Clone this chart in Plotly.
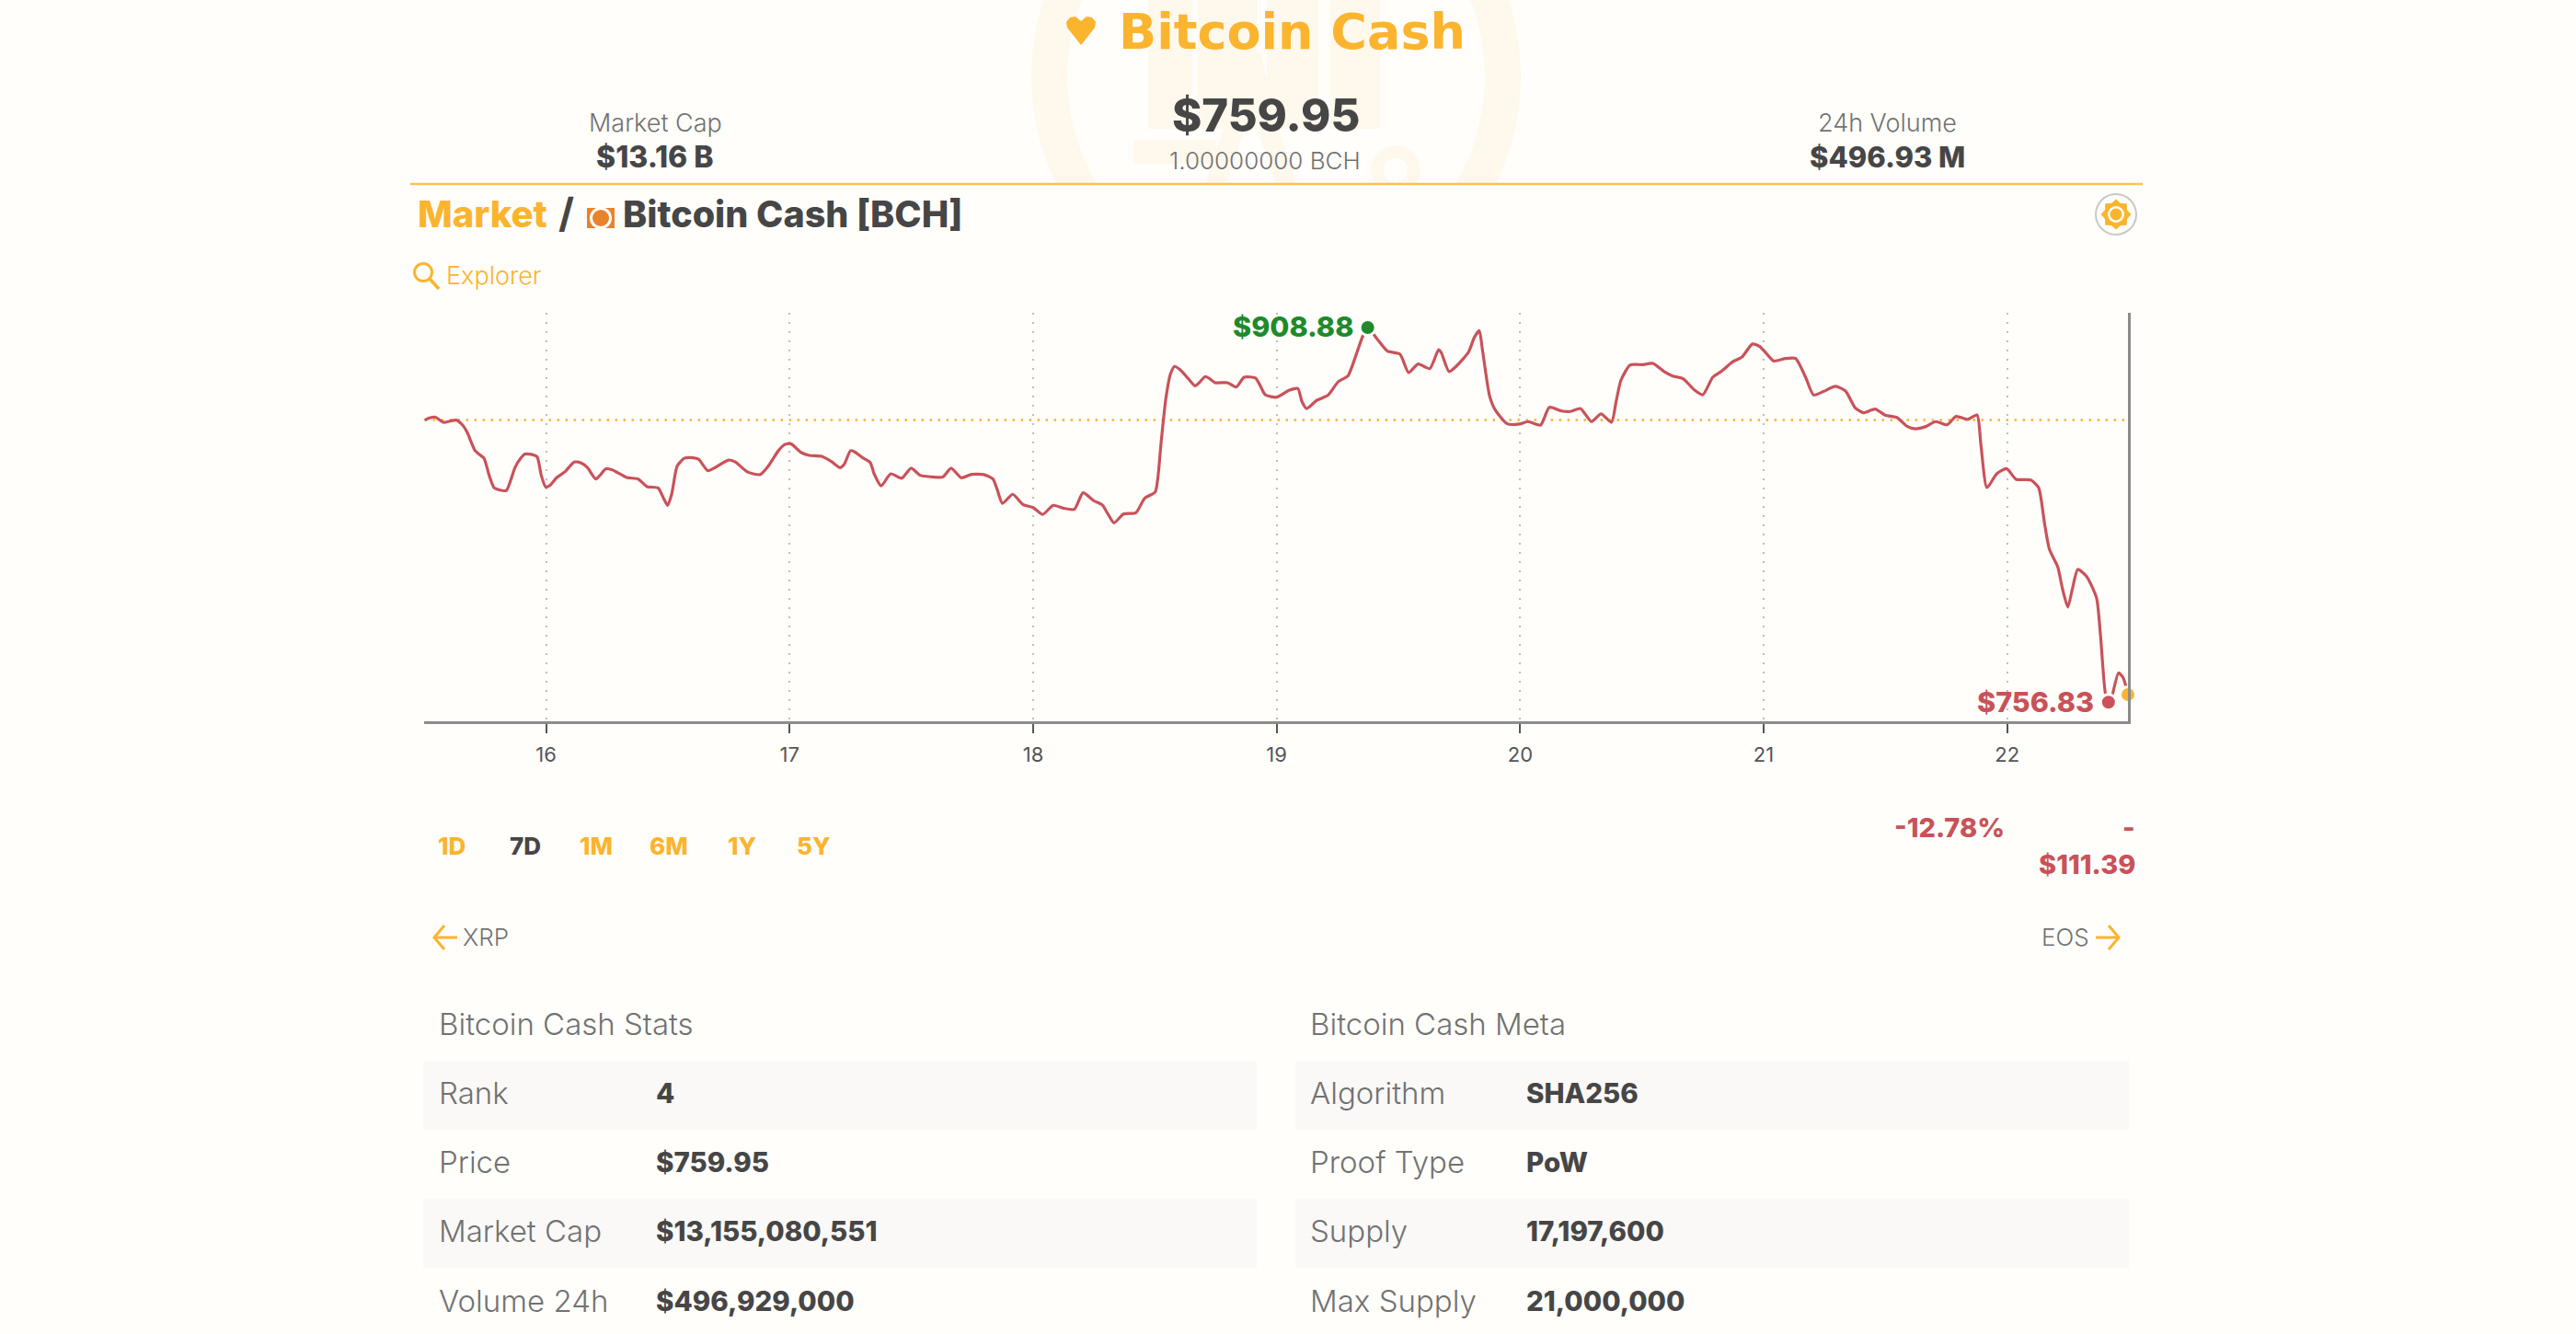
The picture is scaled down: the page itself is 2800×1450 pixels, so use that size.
import numpy as np
import pandas as pd
import plotly.graph_objects as go

# Precio BCH, 7 dias (dia del mes, dolares)
prices = [
    (15.501, 871.3), (15.521, 872.2), (15.546, 872.5), (15.563, 871.3), (15.580, 870.4), (15.605, 870.9),
    (15.631, 871.3), (15.656, 869.4), (15.676, 866.3), (15.707, 859.1), (15.723, 857.6), (15.745, 855.8),
    (15.766, 848.9), (15.786, 843.9), (15.804, 843.1), (15.836, 842.7), (15.855, 847.0), (15.872, 852.0),
    (15.895, 855.8), (15.914, 857.5), (15.939, 857.4), (15.963, 856.4), (15.980, 848.9), (15.998, 844.2),
    (16.013, 844.6), (16.044, 848.0), (16.078, 850.4), (16.115, 854.3), (16.142, 854.0), (16.170, 852.0),
    (16.204, 847.4), (16.221, 848.9), (16.246, 851.6), (16.272, 851.1), (16.331, 848.0), (16.378, 847.4),
    (16.415, 844.3), (16.460, 843.8), (16.482, 839.6), (16.499, 836.7), (16.516, 841.4), (16.538, 852.6),
    (16.567, 855.8), (16.592, 856.1), (16.626, 855.4), (16.664, 850.8), (16.693, 852.0), (16.749, 855.1),
    (16.777, 854.3), (16.828, 850.2), (16.879, 849.2), (16.912, 852.6), (16.954, 858.9), (16.980, 861.4),
    (17.005, 861.7), (17.047, 858.2), (17.081, 857.0), (17.132, 856.6), (17.174, 854.3), (17.207, 852.0),
    (17.224, 853.3), (17.250, 858.9), (17.266, 858.5), (17.300, 856.0), (17.331, 854.1), (17.347, 849.5),
    (17.376, 844.6), (17.415, 849.5), (17.460, 847.7), (17.499, 851.8), (17.536, 848.9), (17.578, 848.3),
    (17.629, 848.2), (17.663, 851.8), (17.705, 847.9), (17.747, 849.3), (17.798, 849.2), (17.835, 847.4),
    (17.852, 843.3), (17.874, 837.5), (17.916, 841.2), (17.958, 837.1), (18.000, 835.8), (18.039, 833.0),
    (18.082, 836.7), (18.126, 835.5), (18.169, 835.1), (18.205, 841.8), (18.249, 838.6), (18.285, 836.8),
    (18.306, 833.4), (18.332, 829.6), (18.371, 833.2), (18.422, 833.7), (18.458, 839.6), (18.501, 842.1),
    (18.512, 847.7), (18.526, 862.6), (18.545, 880.0), (18.564, 890.0), (18.581, 893.1), (18.603, 891.8),
    (18.632, 888.7), (18.665, 885.2), (18.682, 886.5), (18.707, 889.0), (18.725, 888.1), (18.747, 886.5),
    (18.798, 886.5), (18.834, 884.7), (18.867, 888.7), (18.913, 888.4), (18.931, 885.6), (18.954, 881.5),
    (19.000, 880.6), (19.051, 883.4), (19.087, 884.1), (19.104, 878.8), (19.123, 876.0), (19.166, 879.4),
    (19.210, 881.3), (19.253, 886.9), (19.293, 889.3), (19.325, 897.4), (19.354, 905.5), (19.374, 908.88),
    (19.412, 904.3), (19.455, 899.3), (19.506, 898.1), (19.542, 890.6), (19.581, 894.1), (19.629, 892.2),
    (19.665, 899.9), (19.676, 898.7), (19.708, 891.0), (19.737, 893.1), (19.788, 898.9), (19.812, 904.9),
    (19.832, 907.6), (19.845, 899.9), (19.874, 881.3), (19.896, 875.7), (19.947, 869.8), (19.997, 869.7),
    (20.033, 870.7), (20.084, 869.3), (20.120, 876.5), (20.171, 875.0), (20.207, 874.8), (20.247, 876.0),
    (20.267, 873.8), (20.293, 870.7), (20.332, 873.8), (20.375, 870.4), (20.394, 878.8), (20.414, 887.5),
    (20.452, 893.7), (20.501, 893.8), (20.545, 894.3), (20.591, 891.0), (20.624, 889.3), (20.669, 888.1),
    (20.714, 883.7), (20.750, 881.6), (20.791, 888.7), (20.828, 891.2), (20.872, 894.9), (20.910, 896.8),
    (20.954, 902.2), (20.984, 901.2), (21.008, 898.7), (21.041, 895.3), (21.090, 896.3), (21.131, 896.3),
    (21.172, 888.7), (21.205, 881.5), (21.245, 882.9), (21.295, 885.0), (21.336, 883.1), (21.376, 876.3),
    (21.409, 874.3), (21.458, 875.8), (21.499, 873.3), (21.548, 872.3), (21.589, 868.8), (21.622, 867.8),
    (21.663, 868.6), (21.707, 870.7), (21.753, 869.4), (21.790, 872.8), (21.838, 871.6), (21.876, 873.4),
    (21.892, 861.4), (21.917, 843.9), (21.957, 849.5), (21.998, 851.6), (22.036, 847.3), (22.097, 847.0),
    (22.129, 843.9), (22.154, 829.0), (22.173, 819.0), (22.208, 811.6), (22.227, 802.9), (22.249, 795.4),
    (22.268, 802.9), (22.290, 810.7), (22.326, 807.9), (22.367, 799.1), (22.383, 784.2), (22.403, 760.6),
    (22.416, 756.83), (22.427, 758.1), (22.457, 768.7), (22.476, 766.8), (22.496, 759.95),
]
df = pd.DataFrame(prices, columns=["day", "price"])

OPEN_PRICE = 871.34
BG = "#fffefb"
ORANGE = "#fbb42e"
DARK = "#464646"
GREY = "#727272"
RED = "#c9525a"
GREEN = "#1f8a2c"
CREAM = "#fff8ec"
BAND = "#faf9f7"
FONT = "Inter"

W, H = 2800, 1450


def X(px):
    return px / W


def Y(py):
    return 1 - py / H


shapes = []
annotations = []


def rect(x0, y0, x1, y1, color, layer="below"):
    shapes.append(dict(type="rect", xref="paper", yref="paper", x0=X(x0), x1=X(x1), y0=Y(y0), y1=Y(y1),
                       fillcolor=color, line_width=0, layer=layer))


def circle(cx, cy, r, fill, line=None, lw=0, layer="below"):
    shapes.append(dict(type="circle", xref="paper", yref="paper", x0=X(cx - r), x1=X(cx + r), y0=Y(cy - r), y1=Y(cy + r),
                       fillcolor=fill, line=dict(color=line or fill, width=lw), layer=layer))


def poly(points, color, lw=0, fill=None, closed=False, layer="below"):
    d = "M " + " L ".join(f"{X(a):.5f},{Y(b):.5f}" for a, b in points) + (" Z" if closed else "")
    shapes.append(dict(type="path", xref="paper", yref="paper", path=d, fillcolor=fill,
                       line=dict(color=color, width=lw), layer=layer))


def text(px, py, s, size, color=DARK, weight=400, anchor="left", family=FONT):
    annotations.append(dict(xref="paper", yref="paper", x=X(px), y=Y(py), text=s, showarrow=False,
                            xanchor=anchor, yanchor="middle", align=anchor, borderpad=0,
                            font=dict(family=family, size=size, color=color, weight=weight)))


# marca de agua detras de la cabecera
circle(1387, 83, 266, CREAM)
circle(1387, 83, 227, BG)
for x0, x1 in [(1248, 1296), (1302, 1366), (1377, 1433), (1446, 1500)]:
    rect(x0, 0, x1, 140, CREAM)
rect(1232, 152, 1322, 178, CREAM)
poly([(1320, 205), (1345, 130), (1360, 60), (1375, 130), (1400, 205)], CREAM, lw=22)
circle(1517, 185, 20, BG, line=CREAM, lw=14)
rect(1100, 201, 1680, 339, BG)
rect(1100, 339, 1680, 360, BG)

# cabecera
poly([(446, 200), (2329, 200)], "#fbc050", lw=2.5)
heart = [(1175, 49), (1160, 30), (1159, 24), (1163, 19), (1169, 18), (1175, 23), (1181, 18), (1187, 19), (1191, 24),
         (1190, 30)]
poly(heart, ORANGE, fill=ORANGE, closed=True)
text(1404, 34, "Bitcoin Cash", 54, ORANGE, 700, "center", "DejaVu Sans")
text(712, 133, "Market Cap", 27, GREY, 300, "center")
text(712, 170, "$13.16 B", 32, DARK, 800, "center")
text(1376, 125, "$759.95", 49, DARK, 800, "center")
text(1375, 174, "1.00000000 BCH", 26, GREY, 300, "center")
text(2051, 133, "24h Volume", 27, GREY, 300, "center")
text(2051, 170, "$496.93 M", 31, DARK, 800, "center")

# titulo
text(453, 233, "Market", 40, ORANGE, 800)
text(606, 231, "/", 44, DARK, 700)
rect(638, 226, 668, 248, "#e8832c", layer="above")
circle(653, 237, 12, BG, layer="above")
circle(653, 237, 9, "#e8832c", layer="above")
text(676, 233, "Bitcoin Cash [BCH]", 39.5, DARK, 800)

# ajustes
circle(2300, 233, 22, BG, line="#c8c8c8", lw=2)
ang = np.arange(16) * np.pi / 8 + np.pi / 2
rad = np.where(np.arange(16) % 2 == 0, 16.5, 13)
poly([(2300 + r * np.cos(a), 233 - r * np.sin(a)) for a, r in zip(ang, rad)], ORANGE, fill=ORANGE, closed=True)
circle(2300, 233, 9, BG)
circle(2300, 233, 6.5, ORANGE)

# explorer
circle(460, 296, 9.5, BG, line=ORANGE, lw=3)
poly([(467, 303), (477, 314)], ORANGE, lw=3.5)
text(484, 300, "Explorer", 27, ORANGE, 300)

# rangos
for cx, label in zip([491, 571, 648, 727, 806, 884], ["1D", "7D", "1M", "6M", "1Y", "5Y"]):
    text(cx, 919, label, 26, DARK if label == "7D" else ORANGE, 800, "center")
text(2180, 899, "-12.78%", 29, RED, 800, "right")
text(2322, 899, "-", 29, RED, 800, "right")
text(2322, 939, "$111.39", 29, RED, 800, "right")

# anterior / siguiente
poly([(483, 1006), (472, 1019), (483, 1032)], ORANGE, lw=3)
poly([(472, 1019), (497, 1019)], ORANGE, lw=3)
text(502, 1018, "XRP", 26, GREY, 300)
poly([(2292, 1006), (2303, 1019), (2292, 1032)], ORANGE, lw=3)
poly([(2278, 1019), (2303, 1019)], ORANGE, lw=3)
text(2272, 1018, "EOS", 26, GREY, 300, "right")

# tablas
stats = [("Rank", "4"), ("Price", "$759.95"), ("Market Cap", "$13,155,080,551"), ("Volume 24h", "$496,929,000")]
meta = [("Algorithm", "SHA256"), ("Proof Type", "PoW"), ("Supply", "17,197,600"), ("Max Supply", "21,000,000")]
tables = [("Bitcoin Cash Stats", stats, 460, 1366, 476, 712), ("Bitcoin Cash Meta", meta, 1408, 2314, 1423, 1658)]
row_y = [1191, 1266, 1341, 1417]
for title, rows, x0, x1, xlabel, xvalue in tables:
    text(xlabel, 1113, title, 33, GREY, 300)
    for i, (name, value) in enumerate(rows):
        if i % 2 == 0:
            rect(x0, row_y[i] - 38, x1, row_y[i] + 37, BAND)
        text(xlabel, row_y[i] - 3, name, 33, GREY, 300)
        text(xvalue, row_y[i] - 3, value, 29.5, DARK, 800)

# etiquetas de maximo y minimo
high = df.loc[df["price"].idxmax()]
low = df.loc[df["price"].idxmin()]
last = df.iloc[-1]

fig = go.Figure()
fig.add_trace(go.Scatter(x=[df["day"].iloc[0], last["day"]], y=[OPEN_PRICE, OPEN_PRICE], mode="lines",
                         line=dict(color=ORANGE, width=2.5, dash="2.5px,6.5px"), hoverinfo="skip"))
fig.add_trace(go.Scatter(x=df["day"], y=df["price"], mode="lines",
                         line=dict(color=RED, width=3.2, shape="spline", smoothing=0.6)))
fig.add_trace(go.Scatter(x=[high["day"]], y=[high["price"]], mode="markers", cliponaxis=False,
                         marker=dict(color=GREEN, size=17, line=dict(color=BG, width=3))))
fig.add_trace(go.Scatter(x=[low["day"]], y=[low["price"]], mode="markers", cliponaxis=False,
                         marker=dict(color=RED, size=17, line=dict(color=BG, width=3))))
fig.add_trace(go.Scatter(x=[last["day"]], y=[last["price"]], mode="markers", cliponaxis=False,
                         marker=dict(color=ORANGE, size=17, line=dict(color=BG, width=3))))

for row, s, color, dy in [(high, "$908.88", GREEN, 1), (low, "$756.83", RED, 1)]:
    annotations.append(dict(x=row["day"], y=row["price"], xref="x", yref="y", text=s, showarrow=False,
                            xanchor="right", yanchor="middle", xshift=-14, yshift=dy,
                            font=dict(family=FONT, size=30.5, color=color, weight=800)))

fig.update_layout(
    width=W, height=H,
    margin=dict(l=0, r=0, t=0, b=0),
    paper_bgcolor=BG, plot_bgcolor=BG,
    showlegend=False,
    shapes=shapes,
    annotations=annotations,
    xaxis=dict(domain=[X(461), X(2313)], range=[15.499, 22.496], tickvals=list(range(16, 23)),
               ticks="outside", ticklen=10, tickwidth=2, tickcolor="#555555", showline=True, linecolor="#8c8c8c",
               linewidth=3, showgrid=True, gridcolor="#bdbdbd", gridwidth=2, griddash="2px,8px", zeroline=False,
               tickfont=dict(family="Liberation Sans Narrow, Inter", size=22, color="#555555"), ticklabelstandoff=5),
    yaxis=dict(domain=[Y(783.7), Y(340)], range=[749.2, 914.85], side="right", showline=True, linecolor="#8c8c8c",
               linewidth=3, showgrid=False, zeroline=False, showticklabels=False, ticks=""),
)

# quitar el margen que deja el body
fig.write_html("out.html", config=dict(displayModeBar=False),
               post_script="document.body.style.margin='0';document.body.style.overflow='hidden';")
